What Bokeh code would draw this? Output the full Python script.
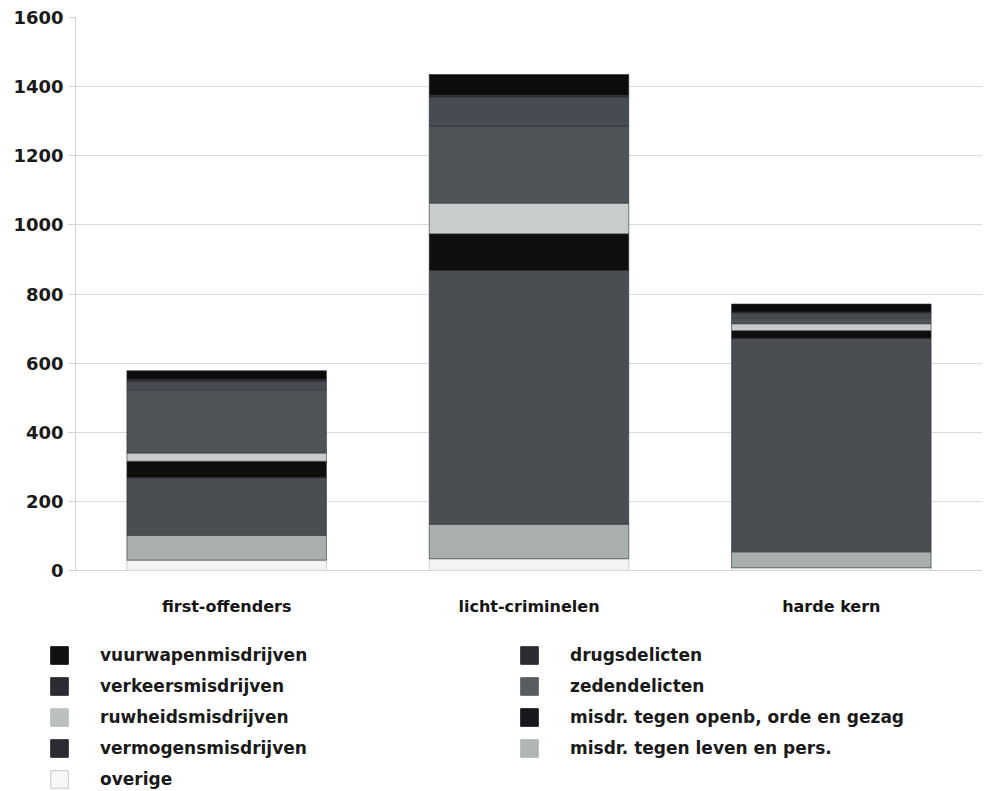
from bokeh.plotting import figure
from bokeh.layouts import column, row
from bokeh.models import ColumnDataSource, Legend, LegendItem, FixedTicker, Range1d
from bokeh.embed import file_html
from bokeh.resources import INLINE

groups = ["first-offenders", "licht-criminelen", "harde kern"]

# stacked bottom -> top
overige = [30, 34, 8]
leven = [72, 100, 46]
vermogens = [166, 734, 617]
openb_orde = [48, 106, 23]
ruwheids = [24, 89, 20]
zeden = [183, 223, 17]
verkeers = [25, 83, 14]
drugs = [5, 6, 3]
vuurwapen = [25, 60, 23]

series_keys = ["overige", "leven", "vermogens", "openb_orde", "ruwheids",
               "zeden", "verkeers", "drugs", "vuurwapen"]
series_labels = {
    "overige": "overige",
    "leven": "misdr. tegen leven en pers.",
    "vermogens": "vermogensmisdrijven",
    "openb_orde": "misdr. tegen openb, orde en gezag",
    "ruwheids": "ruwheidsmisdrijven",
    "zeden": "zedendelicten",
    "verkeers": "verkeersmisdrijven",
    "drugs": "drugsdelicten",
    "vuurwapen": "vuurwapenmisdrijven",
}
bar_colors = {
    "overige": "#f3f3f3",
    "leven": "#a9aeae",
    "vermogens": "#4a4e53",
    "openb_orde": "#0e0e0e",
    "ruwheids": "#c9cccc",
    "zeden": "#4f5459",
    "verkeers": "#474c52",
    "drugs": "#2b2d31",
    "vuurwapen": "#0c0c0c",
}
legend_colors = {
    "overige": "#f7f7f7",
    "leven": "#b2b5b5",
    "vermogens": "#2a2c31",
    "openb_orde": "#17181b",
    "ruwheids": "#bcbfbf",
    "zeden": "#595d61",
    "verkeers": "#2a2c31",
    "drugs": "#2a2c31",
    "vuurwapen": "#111112",
}
y_ticks = [0, 200, 400, 600, 800, 1000, 1200, 1400, 1600]

source = ColumnDataSource(dict(
    groups=groups, overige=overige, leven=leven, vermogens=vermogens,
    openb_orde=openb_orde, ruwheids=ruwheids, zeden=zeden,
    verkeers=verkeers, drugs=drugs, vuurwapen=vuurwapen))

p = figure(x_range=groups, y_range=(0, 1600), width=982, height=618,
           output_backend="svg", toolbar_location=None,
           min_border_left=75, min_border_right=0, min_border_top=17,
           min_border_bottom=43)
p.outline_line_color = None

p.vbar_stack(series_keys, x="groups", width=0.66, source=source,
             color=[bar_colors[k] for k in series_keys],
             line_color=["#b5b5b5"] + ["#2e2e2e"] * 8,
             line_width=0.6)

# axes
p.yaxis.ticker = FixedTicker(ticks=y_ticks)
p.yaxis.axis_line_color = "#d4d4d4"
p.yaxis.major_tick_line_color = "#cfcfcf"
p.yaxis.major_tick_out = 7
p.yaxis.major_tick_in = 0
p.yaxis.minor_tick_line_color = None
p.yaxis.major_label_text_font = "DejaVu Sans"
p.yaxis.major_label_text_font_style = "bold"
p.yaxis.major_label_text_font_size = "18px"
p.yaxis.major_label_text_color = "#1a1a1a"
p.yaxis.major_label_standoff = 5

p.xaxis.axis_line_color = "#d4d4d4"
p.xaxis.major_tick_line_color = None
p.xaxis.minor_tick_line_color = None
p.xaxis.major_label_text_font = "DejaVu Sans"
p.xaxis.major_label_text_font_style = "bold"
p.xaxis.major_label_text_font_size = "16px"
p.xaxis.major_label_text_color = "#151515"
p.xaxis.major_label_standoff = 20

p.xgrid.grid_line_color = None
p.ygrid.grid_line_color = "#dcdcdc"
p.ygrid.grid_line_width = 1

# legend panel (separate figure below the chart)
lf = figure(width=982, height=172, output_backend="svg", toolbar_location=None,
            x_range=Range1d(0, 1), y_range=Range1d(0, 1),
            x_axis_location=None, y_axis_location=None,
            min_border_left=0, min_border_right=0, min_border_top=0,
            min_border_bottom=0)
lf.grid.visible = False
lf.outline_line_color = None

legend_r = {}
for k in series_keys:
    # off-screen placeholder renderers that only supply the legend swatches
    legend_r[k] = lf.vbar(x=[-5], top=[-5], bottom=[-6], width=0.1,
                          fill_color=legend_colors[k],
                          line_color="#c8c8c8" if k == "overige" else legend_colors[k],
                          line_width=1)

left_keys = ["vuurwapen", "verkeers", "ruwheids", "vermogens", "overige"]
right_keys = ["drugs", "zeden", "openb_orde", "leven"]


def make_legend(keys, loc):
    return Legend(items=[LegendItem(label=series_labels[k], renderers=[legend_r[k]]) for k in keys],
                  location=loc, orientation="vertical",
                  glyph_width=22, glyph_height=22, label_height=22,
                  label_standoff=30, spacing=9, padding=0, margin=0,
                  border_line_color=None, background_fill_alpha=0,
                  label_text_font="DejaVu Sans", label_text_font_style="bold",
                  label_text_font_size="17px", label_text_color="#1a1a1a")


lf.add_layout(make_legend(left_keys, (48, 0)), "center")
lf.add_layout(make_legend(right_keys, (518, 31)), "center")

layout = column(p, row(lf, spacing=0), spacing=0)
open("out.html", "w").write(file_html(layout, INLINE))
